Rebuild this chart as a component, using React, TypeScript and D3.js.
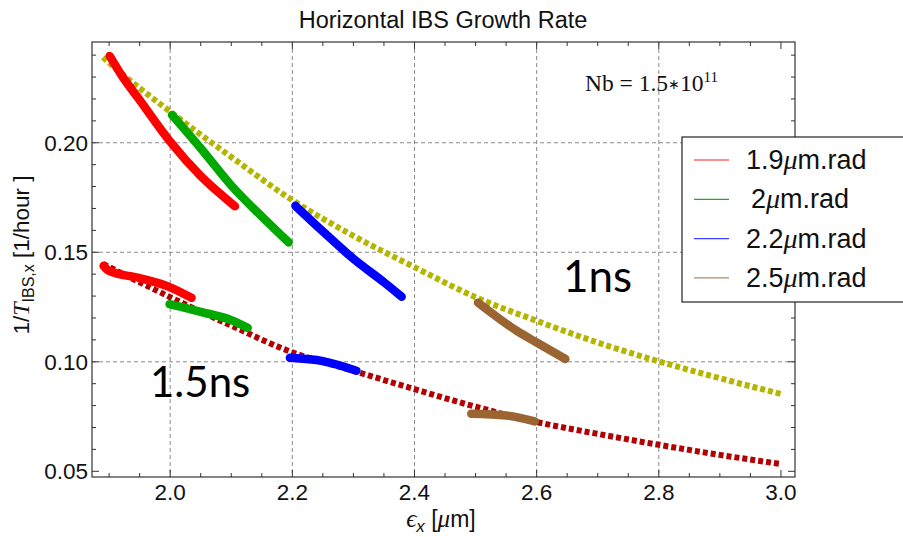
import React from "react";
import * as d3 from "d3";

// ---- Data ----
const xTicksMajor = [2.0, 2.2, 2.4, 2.6, 2.8, 3.0];
const yTicksMajor = [0.05, 0.1, 0.15, 0.2];
const xTickLabels = ["2.0", "2.2", "2.4", "2.6", "2.8", "3.0"];
const yTickLabels = ["0.05", "0.10", "0.15", "0.20"];
const xGrid = [2.0, 2.2, 2.4, 2.6, 2.8];
const yGrid = [0.1, 0.15, 0.2];

// 1 ns bunch-length curve (olive dotted)
const oneNs: [number, number][] = [
  [1.89, 0.239], [1.9, 0.2365], [2.0, 0.2142], [2.1, 0.1935], [2.2, 0.1738],
  [2.3, 0.1575], [2.4, 0.1432], [2.5, 0.1295], [2.6, 0.1187], [2.7, 0.1088],
  [2.8, 0.1002], [2.9, 0.0925], [3.0, 0.0853],
];
// 1.5 ns bunch-length curve (dark red dotted)
const onePointFiveNs: [number, number][] = [
  [1.89, 0.1447], [2.0, 0.1295], [2.1, 0.1165], [2.2, 0.1043], [2.3, 0.0959],
  [2.4, 0.0875], [2.5, 0.0795], [2.6, 0.0725], [2.7, 0.0671], [2.8, 0.0621],
  [2.9, 0.0575], [3.0, 0.0533],
];

// 1.9 µm.rad
const red1ns: [number, number][] = [
  [1.901, 0.2396], [1.92, 0.231], [1.95, 0.2195], [2.0, 0.2005], [2.05, 0.1848],
  [2.1, 0.1724], [2.106, 0.171],
];
const red15ns: [number, number][] = [
  [1.891, 0.1438], [1.9, 0.1415], [1.95, 0.1382], [2.0, 0.134], [2.035, 0.1292],
];
// 2 µm.rad
const green1ns: [number, number][] = [
  [2.003, 0.2127], [2.05, 0.1975], [2.1, 0.1805], [2.15, 0.1663], [2.194, 0.1545],
];
const green15ns: [number, number][] = [
  [1.999, 0.1263], [2.05, 0.1228], [2.1, 0.119], [2.127, 0.1155],
];
// 2.2 µm.rad
const blue1ns: [number, number][] = [
  [2.205, 0.1712], [2.25, 0.1595], [2.3, 0.147], [2.35, 0.1363], [2.379, 0.1297],
];
const blue15ns: [number, number][] = [
  [2.196, 0.1018], [2.25, 0.1003], [2.305, 0.0959],
];
// 2.5 µm.rad
const brown1ns: [number, number][] = [
  [2.504, 0.127], [2.53, 0.1215], [2.567, 0.1142], [2.6, 0.1088], [2.647, 0.1013],
];
const brown15ns: [number, number][] = [
  [2.493, 0.0763], [2.55, 0.0755], [2.597, 0.0728],
];

const legendLabels = ["1.9", "2", "2.2", "2.5"];
const legendColors = ["#ff2020", "#1faa1f", "#4040ff", "#b08860"];

const W = 903;
const H = 537;
const L = 92, R = 795, T = 42, B = 477;

export default function App() {
  const x = d3.scaleLinear().domain([1.872, 3.023]).range([L, R]);
  const y = d3.scaleLinear().domain([0.0474, 0.246]).range([B, T]);
  const line = d3
    .line<[number, number]>()
    .x((d) => x(d[0]))
    .y((d) => y(d[1]))
    .curve(d3.curveMonotoneX);

  const xMinor = d3.range(1.9, 3.001, 0.05);
  const yMinor = d3.range(0.05, 0.2451, 0.01);

  const segs: { data: [number, number][]; color: string }[] = [
    { data: red1ns, color: "#ff0000" },
    { data: red15ns, color: "#ff0000" },
    { data: green1ns, color: "#00a800" },
    { data: green15ns, color: "#00a800" },
    { data: blue1ns, color: "#0000ff" },
    { data: blue15ns, color: "#0000ff" },
    { data: brown1ns, color: "#9a6533" },
    { data: brown15ns, color: "#9a6533" },
  ];

  const sans = "'Liberation Sans', Arial, sans-serif";
  const serif = "'Liberation Serif', 'Times New Roman', serif";

  return (
    <svg
      width={W}
      height={H}
      style={{ position: "absolute", left: 0, top: 0, background: "#fff" }}
    >
      <rect x={0} y={0} width={W} height={H} fill="#fff" />
      {/* grid */}
      {xGrid.map((v) => (
        <line key={"gx" + v} x1={x(v)} x2={x(v)} y1={T} y2={B} stroke="#8a8a8a" strokeDasharray="4,3" strokeWidth={1} />
      ))}
      {yGrid.map((v) => (
        <line key={"gy" + v} x1={L} x2={R} y1={y(v)} y2={y(v)} stroke="#8a8a8a" strokeDasharray="4,3" strokeWidth={1} />
      ))}

      {/* dotted model curves */}
      <path d={line(oneNs) || ""} fill="none" stroke="#b5b500" strokeWidth={6} strokeDasharray="5,3" />
      <path d={line(onePointFiveNs) || ""} fill="none" stroke="#b30000" strokeWidth={6} strokeDasharray="5,3" />

      {/* data segments */}
      {segs.map((s, i) => (
        <path key={"s" + i} d={line(s.data) || ""} fill="none" stroke={s.color} strokeWidth={8.5} strokeLinecap="round" strokeLinejoin="round" />
      ))}

      {/* frame */}
      <rect x={L} y={T} width={R - L} height={B - T} fill="none" stroke="#333" strokeWidth={1.2} />
      {/* ticks */}
      {xMinor.map((v) => {
        const major = xTicksMajor.some((m) => Math.abs(m - v) < 1e-6);
        const len = major ? 7 : 4;
        return (
          <g key={"xt" + v}>
            <line x1={x(v)} x2={x(v)} y1={B} y2={B - len} stroke="#333" />
            <line x1={x(v)} x2={x(v)} y1={T} y2={T + len} stroke="#333" />
          </g>
        );
      })}
      {yMinor.map((v) => {
        const major = yTicksMajor.some((m) => Math.abs(m - v) < 1e-6);
        const len = major ? 7 : 4;
        return (
          <g key={"yt" + v}>
            <line x1={L} x2={L + len} y1={y(v)} y2={y(v)} stroke="#333" />
            <line x1={R} x2={R - len} y1={y(v)} y2={y(v)} stroke="#333" />
          </g>
        );
      })}
      {/* tick labels */}
      {xTicksMajor.map((v, i) => (
        <text key={"xl" + v} x={x(v)} y={500} textAnchor="middle" fontFamily={sans} fontSize={22.5} fill="#111">
          {xTickLabels[i]}
        </text>
      ))}
      {yTicksMajor.map((v, i) => (
        <text key={"yl" + v} x={88} y={y(v) + 8} textAnchor="end" fontFamily={sans} fontSize={22.5} fill="#111">
          {yTickLabels[i]}
        </text>
      ))}

      {/* title */}
      <text x={443} y={28} textAnchor="middle" fontFamily={sans} fontSize={23.5} fill="#111">
        Horizontal IBS Growth Rate
      </text>

      {/* axis labels */}
      <text x={441} y={527} textAnchor="middle" fontFamily={sans} fontSize={23} fill="#111">
        <tspan fontFamily={serif} fontStyle="italic" fontSize={25}>ϵ</tspan>
        <tspan fontSize={17} dy={5} fontStyle="italic">x</tspan>
        <tspan dy={-5}> [</tspan>
        <tspan fontFamily={serif} fontStyle="italic" fontSize={25}>μ</tspan>
        <tspan>m]</tspan>
      </text>
      <text
        transform="translate(29,255) rotate(-90)"
        textAnchor="middle"
        fontFamily={sans}
        fontSize={22.5}
        fill="#111"
      >
        <tspan>1/</tspan>
        <tspan fontStyle="italic" fontFamily={serif} fontSize={24}>T</tspan>
        <tspan fontSize={16} dy={5}>IBS,x</tspan>
        <tspan dy={-5}> [1/hour ]</tspan>
      </text>

      {/* annotations */}
      <text x={585} y={91} fontFamily={serif} fontSize={23.5} fill="#111">
        Nb = 1.5<tspan fontSize={14} dy={-2}>∗</tspan>
        <tspan dy={2}>10</tspan>
        <tspan fontSize={15} dy={-9}>11</tspan>
      </text>
      <text x={563} y={292} fontFamily="Lato, 'Open Sans', sans-serif" fontSize={44} fill="#000">
        1ns
      </text>
      <text x={150} y={397} fontFamily="Lato, 'Open Sans', sans-serif" fontSize={42} fill="#000">
        1.5ns
      </text>

      {/* legend */}
      <rect x={682} y={137} width={240} height={165} fill="#fff" stroke="#222" strokeWidth={1.2} />
      {legendLabels.map((lab, i) => {
        const cy = 160 + i * 39.3;
        return (
          <g key={"lg" + i}>
            <line x1={694} x2={729} y1={cy} y2={cy} stroke={legendColors[i]} strokeWidth={1.2} />
            <text x={i === 1 ? 751 : 746} y={cy + 9} fontFamily={sans} fontSize={27} fill="#111">
              {lab}
              <tspan fontFamily={serif} fontStyle="italic" fontSize={28}>μ</tspan>
              m.rad
            </text>
          </g>
        );
      })}
    </svg>
  );
}
